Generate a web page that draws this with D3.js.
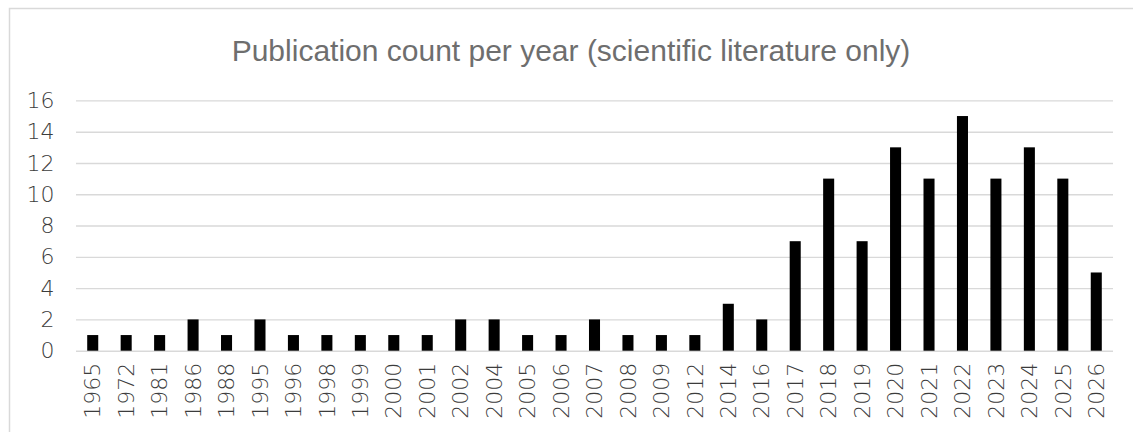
<!DOCTYPE html>
<html><head><meta charset="utf-8">
<script src="https://cdn.jsdelivr.net/npm/d3@7"></script>
<style>html,body{margin:0;padding:0;background:#fff;}svg{display:block;}</style>
</head><body>
<svg id="chart" width="1133" height="432"></svg>
<script>
const years = ["1965","1972","1981","1986","1988","1995","1996","1998","1999","2000","2001","2002","2004","2005","2006","2007","2008","2009","2012","2014","2016","2017","2018","2019","2020","2021","2022","2023","2024","2025","2026"];
const counts = [1,1,1,2,1,2,1,1,1,1,1,2,2,1,1,2,1,1,1,3,2,7,11,7,13,11,15,11,13,11,5];
const yTicks = [0,2,4,6,8,10,12,14,16];
const title = "Publication count per year (scientific literature only)";

const svg = d3.select("#chart");
const m = {left:76, right:1113, top:100.4, bottom:350.7};
const x = d3.scaleBand().domain(years).range([m.left, m.right]).paddingInner(0.67).paddingOuter(0.335);
const y = d3.scaleLinear().domain([0,16]).range([m.bottom, m.top]);

svg.append("rect").attr("x",9.5).attr("y",8.5).attr("width",1140).attr("height",440)
  .attr("fill","#fff").attr("stroke","#d9d9d9").attr("stroke-width",1.5);

svg.append("text").attr("x",571).attr("y",60.5).attr("text-anchor","middle")
  .attr("font-family","'Liberation Sans', Arial, sans-serif").attr("font-size",30)
  .attr("fill","#6e6e6e").text(title);

const yAxis = d3.axisLeft(y).tickValues(yTicks).tickSize(-(m.right-m.left)).tickPadding(21.5);
const gy = svg.append("g").attr("transform",`translate(${m.left},0)`).call(yAxis);
gy.select(".domain").remove();
gy.selectAll(".tick line").attr("stroke","#d9d9d9").attr("stroke-width",1.4);
gy.selectAll(".tick text").attr("font-family","'DejaVu Sans', sans-serif").attr("font-weight",200).attr("font-size",22).attr("fill","#3c3c3c");

svg.append("g").selectAll("rect").data(years).join("rect")
  .attr("x",d=>x(d)).attr("width",x.bandwidth())
  .attr("y",(d,i)=>y(counts[i])).attr("height",(d,i)=>y(0)-y(counts[i]))
  .attr("fill","#000");

const xAxis = d3.axisBottom(x).tickSize(0).tickPadding(0);
const gx = svg.append("g").attr("transform",`translate(0,${m.bottom})`).call(xAxis);
gx.select(".domain").remove();
gx.selectAll(".tick text").attr("font-family","'DejaVu Sans', sans-serif").attr("font-weight",200).attr("font-size",22).attr("fill","#3c3c3c")
  .attr("transform","rotate(-90)").attr("text-anchor","end").attr("x",-12).attr("y",0).attr("dy","0.35em");
</script>
</body></html>
